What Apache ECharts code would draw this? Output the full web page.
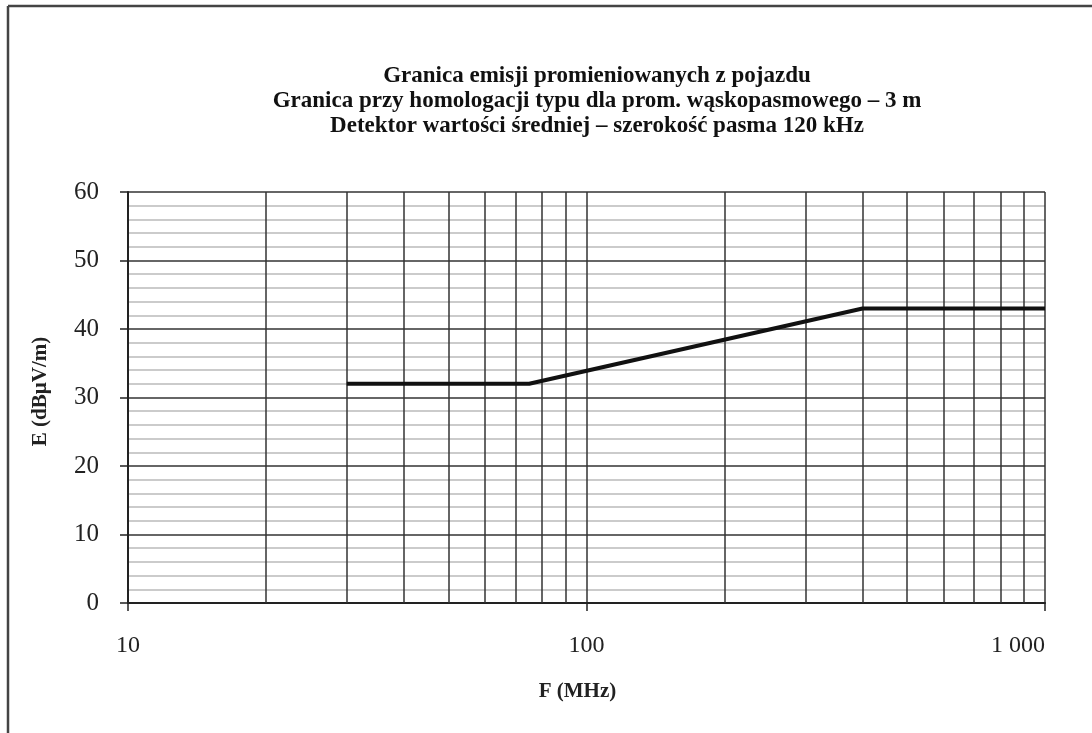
<!DOCTYPE html>
<html>
<head>
<meta charset="utf-8">
<script src="https://cdn.jsdelivr.net/npm/echarts@6/dist/echarts.min.js"></script>
<style>
html,body{margin:0;padding:0;background:#fff;}
#chart{width:1092px;height:733px;}
</style>
</head>
<body>
<div id="chart"></div>
<script>
var titleLines = [
  'Granica emisji promieniowanych z pojazdu',
  'Granica przy homologacji typu dla prom. wąskopasmowego – 3 m',
  'Detektor wartości średniej – szerokość pasma 120 kHz'
];
var xName = 'F (MHz)';
var yName = 'E (dBµV/m)';
var freqMHz = [30, 75, 400, 1000];
var limitDb = [32, 32, 43, 43];
var verticalGridFreqs = [20, 30, 40, 50, 60, 70, 80, 90, 200, 300, 400, 500, 600, 700, 800, 900];
var xMin = 10, xMax = 1000;
var yMin = 0, yMax = 60, yStep = 10;

var font = '"Liberation Serif", "DejaVu Serif", serif';
var chart = echarts.init(document.getElementById('chart'));
chart.setOption({
  animation: false,
  backgroundColor: '#fff',
  title: {
    text: titleLines.join('\n'),
    left: 592,
    textAlign: 'center',
    top: 59,
    textStyle: {fontFamily: font, fontSize: 23, fontWeight: 'bold', color: '#111', lineHeight: 25}
  },
  graphic: [
    {type: 'line', shape: {x1: 8, y1: 6, x2: 1092, y2: 6}, style: {stroke: '#444', lineWidth: 2.5}},
    {type: 'line', shape: {x1: 8, y1: 6, x2: 8, y2: 733}, style: {stroke: '#444', lineWidth: 2.5}}
  ],
  grid: {left: 128, right: 47, top: 192, bottom: 130, containLabel: false},
  xAxis: {
    type: 'log', logBase: 10, min: xMin, max: xMax,
    name: xName, nameLocation: 'middle', nameGap: 78,
    nameTextStyle: {fontFamily: font, fontSize: 21, fontWeight: 'bold', color: '#222', padding: [0, 18, 0, 0]},
    axisLine: {show: true, lineStyle: {color: '#222', width: 2}},
    axisTick: {show: true, length: 8, lineStyle: {color: '#222', width: 1.5}},
    axisLabel: {margin: 31, fontFamily: font, fontSize: 24, color: '#222', alignMaxLabel: 'right',
      formatter: function (v) { return String(Math.round(v)).replace(/\B(?=(\d{3})+(?!\d))/g, ' '); }},
    splitLine: {show: true, lineStyle: {color: '#333', width: 1.5}},
    minorTick: {show: false}, minorSplitLine: {show: false}
  },
  yAxis: {
    type: 'value', min: yMin, max: yMax, interval: yStep,
    name: yName, nameLocation: 'middle', nameGap: 77,
    nameTextStyle: {fontFamily: font, fontSize: 21, fontWeight: 'bold', color: '#222', padding: [0, 0, 0, 12]},
    axisLine: {show: true, lineStyle: {color: '#222', width: 2}},
    axisTick: {show: true, inside: false, length: 8, lineStyle: {color: '#222', width: 1.5}},
    axisLabel: {margin: 29, fontFamily: font, fontSize: 25, color: '#222'},
    splitLine: {show: true, lineStyle: {color: '#333', width: 1.5}},
    minorTick: {show: false, splitNumber: 5},
    minorSplitLine: {show: true, lineStyle: {color: '#bbb', width: 1.5}}
  },
  series: [
    {
      type: 'line',
      data: freqMHz.map(function (f, i) { return [f, limitDb[i]]; }),
      symbol: 'none',
      z: 5,
      lineStyle: {color: '#111', width: 4},
      markLine: {
        silent: true, symbol: 'none', animation: false,
        label: {show: false},
        lineStyle: {color: '#333', width: 1.5, type: 'solid'},
        data: verticalGridFreqs.map(function (f) { return {xAxis: f}; })
      }
    }
  ]
});
</script>
</body>
</html>
